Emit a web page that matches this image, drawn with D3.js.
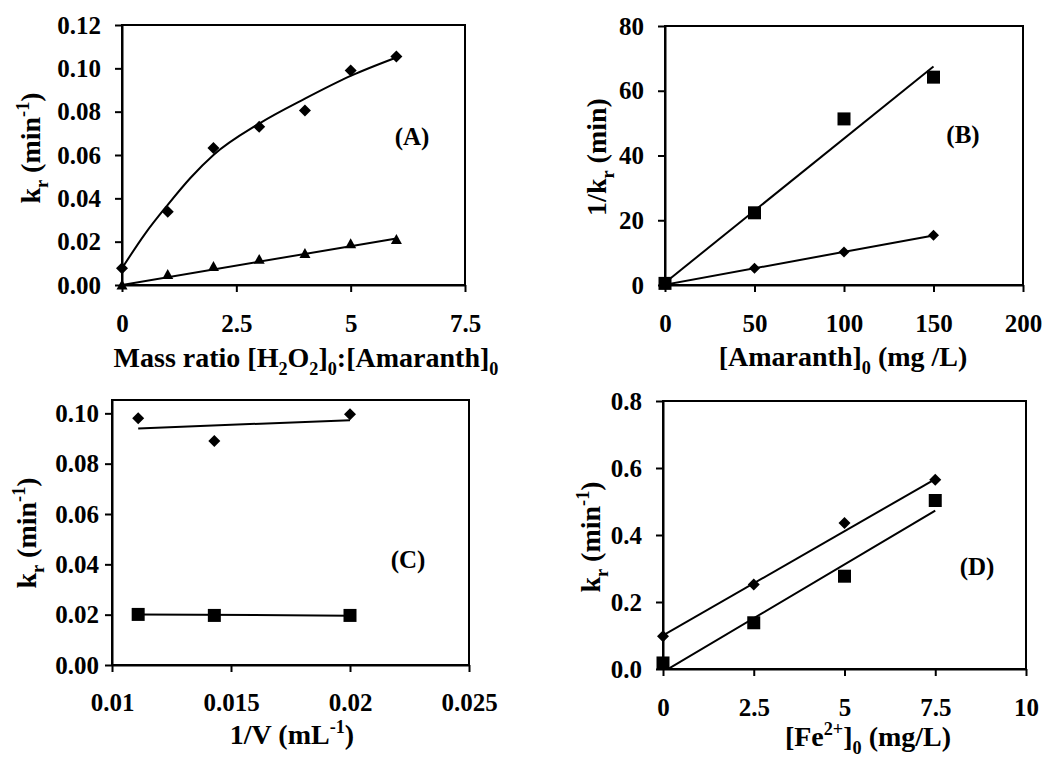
<!DOCTYPE html>
<html>
<head>
<meta charset="utf-8">
<script src="https://cdn.jsdelivr.net/npm/d3@7"></script>
<style>
  body { margin: 0; background: #fff; }
  svg { display: block; font-family: "Times New Roman", "Liberation Serif", serif; font-weight: bold; }
</style>
</head>
<body>
<svg width="1051" height="758"></svg>
<script>
// panel A : k_r vs mass ratio
const aX = [0, 1, 2, 3, 4, 5, 6];
const aDiamond = [0.0077, 0.0338, 0.0632, 0.0730, 0.0805, 0.0990, 0.1055];
const aTriangle = [0, 0.0048, 0.0085, 0.0118, 0.0145, 0.0190, 0.0210];
const aCurveX = [0, 0.5, 1, 1.5, 2, 3, 4, 5, 6];
const aCurveY = [0.0077, 0.0235, 0.037, 0.0495, 0.060, 0.0745, 0.086, 0.0965, 0.105];
const aTriFit = [[0, 0], [6, 0.0215]];
const aXTicks = [0, 2.5, 5, 7.5];
const aYTicks = [0, 0.02, 0.04, 0.06, 0.08, 0.10, 0.12];

// panel B : 1/k_r vs amaranth
const bX = [0, 50, 100, 150];
const bSquare = [0.5, 22.3, 51.3, 64.2];
const bDiamond = [0.2, 5.2, 10.2, 15.4];
const bSqFit = [[0, 0.7], [150, 67.5]];
const bDiaFit = [[0, 0.1], [150, 15.3]];
const bXTicks = [0, 50, 100, 150, 200];
const bYTicks = [0, 20, 40, 60, 80];

// panel C : k_r vs 1/V
const cX = [0.0111, 0.0143, 0.02];
const cDiamond = [0.098, 0.089, 0.0996];
const cSquare = [0.0201, 0.0197, 0.0197];
const cDiaFit = [[0.0111, 0.094], [0.02, 0.0973]];
const cSqFit = [[0.0111, 0.0201], [0.02, 0.0196]];
const cXTicks = [0.01, 0.015, 0.02, 0.025];
const cYTicks = [0, 0.02, 0.04, 0.06, 0.08, 0.10];

// panel D : k_r vs Fe2+
const dX = [0, 2.5, 5, 7.5];
const dDiamond = [0.098, 0.252, 0.436, 0.565];
const dSquare = [0.018, 0.138, 0.277, 0.503];
const dDiaFit = [[0, 0.1], [7.5, 0.567]];
const dSqFit = [[0, -0.009], [7.5, 0.4725]];
const dXTicks = [0, 2.5, 5, 7.5, 10];
const dYTicks = [0, 0.2, 0.4, 0.6, 0.8];

const svg = d3.select("svg");
const tickFont = 25, labelFont = 28;

// text with sub/superscripts, parts = [[text, "sub"|"sup"|undefined], ...]
function richText(g, parts, size) {
  let shift = 0;
  parts.forEach(p => {
    let want = p[1] == "sub" ? 0.3 * size : p[1] == "sup" ? -0.38 * size : 0;
    g.append("tspan")
      .attr("dy", want - shift)
      .style("font-size", (p[1] ? size * 0.65 : size) + "px")
      .text(p[0]);
    shift = want;
  });
}

const marker = {
  diamond: r => `M0,${-r}L${r},0L0,${r}L${-r},0Z`,
  square: r => `M${-r},${-r}H${r}V${r}H${-r}Z`,
  triangle: r => `M0,${-r}L${r},${r * 0.8}L${-r},${r * 0.8}Z`
};

let clipId = 0;
function panel(cfg) {
  const x = d3.scaleLinear().domain(cfg.xDomain).range([cfg.left, cfg.right]);
  const y = d3.scaleLinear().domain(cfg.yDomain).range([cfg.bottom, cfg.top]);
  const g = svg.append("g");

  g.append("rect")
    .attr("x", cfg.left).attr("y", cfg.top)
    .attr("width", cfg.right - cfg.left).attr("height", cfg.bottom - cfg.top)
    .attr("fill", "none").attr("stroke", "#000").attr("stroke-width", 2);

  const xa = g.append("g").attr("transform", `translate(0,${cfg.bottom})`)
    .call(d3.axisBottom(x).tickValues(cfg.xTicks).tickFormat(cfg.xFmt)
      .tickSize(7).tickSizeOuter(0).tickPadding(cfg.xPad));
  const ya = g.append("g").attr("transform", `translate(${cfg.left},0)`)
    .call(d3.axisLeft(y).tickValues(cfg.yTicks).tickFormat(cfg.yFmt)
      .tickSize(7).tickSizeOuter(0).tickPadding(cfg.yPad));
  [xa, ya].forEach(a => {
    a.attr("font-family", null).attr("font-size", null);
    a.selectAll("path,line").attr("stroke", "#000").attr("stroke-width", 2);
    a.selectAll("text").attr("fill", "#000").style("font-size", tickFont + "px");
  });

  const id = "clip" + (clipId++);
  g.append("clipPath").attr("id", id).append("rect")
    .attr("x", cfg.left).attr("y", cfg.top)
    .attr("width", cfg.right - cfg.left).attr("height", cfg.bottom - cfg.top);

  const line = d3.line().x(d => x(d[0])).y(d => y(d[1]));
  cfg.fits.forEach(f => {
    g.append("path")
      .attr("clip-path", `url(#${id})`)
      .attr("d", line.curve(f.curve || d3.curveLinear)(f.pts))
      .attr("fill", "none").attr("stroke", "#000").attr("stroke-width", 2);
  });

  cfg.series.forEach(s => {
    g.selectAll(null).data(s.xs.map((v, i) => [v, s.ys[i]])).enter()
      .append("path")
      .attr("transform", d => `translate(${x(d[0])},${y(d[1])})`)
      .attr("d", marker[s.shape](s.r))
      .attr("fill", "#000");
  });

  richText(g.append("text").attr("x", cfg.xLabel.x).attr("y", cfg.xLabel.y)
    .attr("text-anchor", "middle"), cfg.xLabel.parts, labelFont);
  richText(g.append("text")
    .attr("transform", `translate(${cfg.yLabel.x},${cfg.yLabel.y}) rotate(-90)`)
    .attr("text-anchor", "middle"), cfg.yLabel.parts, labelFont);
  g.append("text").attr("x", cfg.tag.x).attr("y", cfg.tag.y)
    .attr("text-anchor", "middle").style("font-size", "25px").text(cfg.tag.t);
}

const kr = [["k"], ["r", "sub"], [" (min"], ["-1", "sup"], [")"]];

panel({
  left: 122, right: 465, top: 25, bottom: 285,
  xDomain: [0, 7.5], yDomain: [0, 0.12],
  xTicks: aXTicks, yTicks: aYTicks, xFmt: d => String(d), yFmt: d3.format(".2f"),
  xPad: 22, yPad: 14,
  fits: [{pts: aCurveX.map((v, i) => [v, aCurveY[i]]), curve: d3.curveMonotoneX}, {pts: aTriFit}],
  series: [{xs: aX, ys: aDiamond, shape: "diamond", r: 6}, {xs: aX, ys: aTriangle, shape: "triangle", r: 5.5}],
  xLabel: {x: 306, y: 367, parts: [["Mass ratio [H"], ["2", "sub"], ["O"], ["2", "sub"], ["]"], ["0", "sub"], [":[Amaranth]"], ["0", "sub"]]},
  yLabel: {x: 40, y: 148, parts: kr},
  tag: {x: 412, y: 145, t: "(A)"}
});

panel({
  left: 665, right: 1023, top: 26, bottom: 285,
  xDomain: [0, 200], yDomain: [0, 80],
  xTicks: bXTicks, yTicks: bYTicks, xFmt: d => String(d), yFmt: d => String(d),
  xPad: 22, yPad: 14,
  fits: [{pts: bSqFit}, {pts: bDiaFit}],
  series: [{xs: bX, ys: bSquare, shape: "square", r: 6.5}, {xs: bX, ys: bDiamond, shape: "diamond", r: 5.5}],
  xLabel: {x: 843, y: 366, parts: [["[Amaranth]"], ["0", "sub"], [" (mg /L)"]]},
  yLabel: {x: 606, y: 157, parts: [["1/k"], ["r", "sub"], [" (min)"]]},
  tag: {x: 963, y: 143, t: "(B)"}
});

panel({
  left: 112, right: 469, top: 400, bottom: 665,
  xDomain: [0.01, 0.025], yDomain: [0, 0.1053],
  xTicks: cXTicks, yTicks: cYTicks, xFmt: d => String(d), yFmt: d3.format(".2f"),
  xPad: 21, yPad: 6,
  fits: [{pts: cDiaFit}, {pts: cSqFit}],
  series: [{xs: cX, ys: cDiamond, shape: "diamond", r: 6}, {xs: cX, ys: cSquare, shape: "square", r: 6.5}],
  xLabel: {x: 292, y: 744, parts: [["1/V (mL"], ["-1", "sup"], [")"]]},
  yLabel: {x: 36, y: 533, parts: kr},
  tag: {x: 408, y: 568, t: "(C)"}
});

panel({
  left: 663, right: 1026, top: 401, bottom: 669,
  xDomain: [0, 10], yDomain: [0, 0.8],
  xTicks: dXTicks, yTicks: dYTicks, xFmt: d => String(d), yFmt: d3.format(".1f"),
  xPad: 22, yPad: 14,
  fits: [{pts: dDiaFit}, {pts: dSqFit}],
  series: [{xs: dX, ys: dDiamond, shape: "diamond", r: 6}, {xs: dX, ys: dSquare, shape: "square", r: 6.5}],
  xLabel: {x: 868, y: 746, parts: [["[Fe"], ["2+", "sup"], ["]"], ["0", "sub"], [" (mg/L)"]]},
  yLabel: {x: 600, y: 537, parts: kr},
  tag: {x: 977, y: 575, t: "(D)"}
});
</script>
</body>
</html>
